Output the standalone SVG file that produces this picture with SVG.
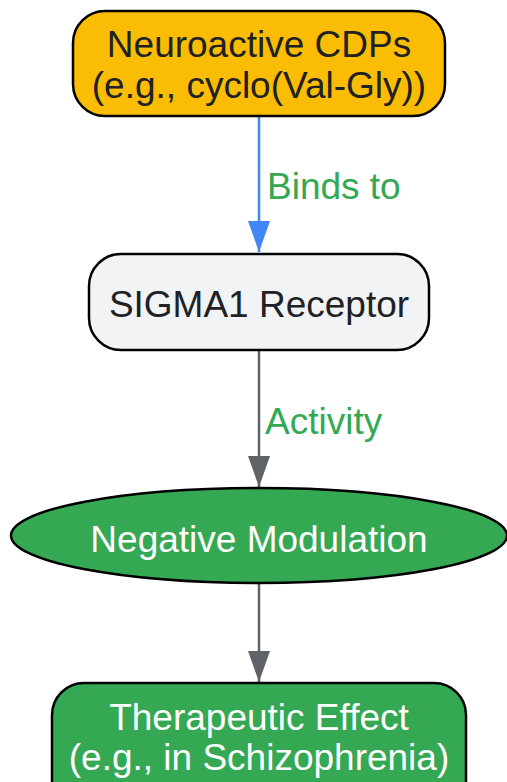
<svg xmlns="http://www.w3.org/2000/svg" width="507" height="782" viewBox="0 0 507 782">
<style>
text{font-family:"Liberation Sans",Arial,sans-serif;text-anchor:middle;font-size:37px}
.n{stroke:#000;stroke-width:2.5}
.dark{fill:#202124}
.light{fill:#fff}
.lbl{fill:#34A853;text-anchor:start}
.e{fill:none;stroke-width:2.5}
</style>
<defs>
<marker id="ab" markerUnits="userSpaceOnUse" markerWidth="22" markerHeight="31" refX="11" refY="31" viewBox="0 0 22 31"><path d="M0,0 L22,0 L11,31 Z" fill="#4285F4"/></marker>
<marker id="ag" markerUnits="userSpaceOnUse" markerWidth="22" markerHeight="31" refX="11" refY="31" viewBox="0 0 22 31"><path d="M0,0 L22,0 L11,31 Z" fill="#5F6368"/></marker>
</defs>
<g id="edges">
<path class="e" d="M259,116 V252" stroke="#4285F4" marker-end="url(#ab)"/>
<text class="lbl" x="267" y="199">Binds to</text>
<path class="e" d="M259,350 V487" stroke="#5F6368" marker-end="url(#ag)"/>
<text class="lbl" x="265" y="434">Activity</text>
<path class="e" d="M259,583 V682" stroke="#5F6368" marker-end="url(#ag)"/>
</g>
<g id="n1">
<rect class="n" x="73" y="11" width="372" height="105" rx="32" fill="#FBBC04"/>
<text class="dark" x="259" y="57">Neuroactive CDPs</text>
<text class="dark" x="259" y="98">(e.g., cyclo(Val-Gly))</text>
</g>
<g id="n2">
<rect class="n" x="89" y="254" width="340" height="96" rx="32" fill="#F1F3F4"/>
<text class="dark" x="259" y="317">SIGMA1 Receptor</text>
</g>
<g id="n3">
<ellipse class="n" cx="259" cy="535.5" rx="248" ry="47.5" fill="#34A853"/>
<text class="light" x="259" y="552">Negative Modulation</text>
</g>
<g id="n4">
<rect class="n" x="52" y="683" width="414" height="130" rx="32" fill="#34A853"/>
<text class="light" x="259" y="730">Therapeutic Effect</text>
<text class="light" x="259" y="770">(e.g., in Schizophrenia)</text>
</g>
</svg>
